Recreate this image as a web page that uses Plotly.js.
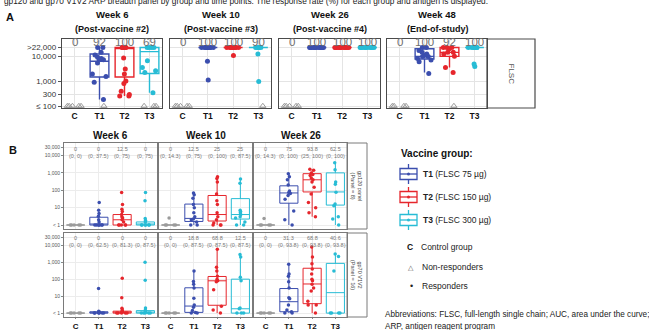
<!DOCTYPE html>
<html><head><meta charset="utf-8">
<script src="https://cdn.plot.ly/plotly-3.0.1.min.js"></script>
<style>html,body{margin:0;padding:0;background:#fff}#chart{width:649px;height:330px}</style>
</head><body><div id="chart"></div>
<script>
// ---------- DATA ----------
const groups = ['C','T1','T2','T3'];
const caption = 'gp120 and gp70 V1V2 ARP breadth panel by group and time points. The response rate (%) for each group and antigen is displayed.';

// Panel A
const aTitles = ['Week 6','Week 10','Week 26','Week 48'];
const aSubtitles = ['(Post-vaccine #2)','(Post-vaccine #3)','(Post-vaccine #4)','(End-of-study)'];
const aRates = [[0,92,100,69],[0,100,100,90],[0,100,100,100],[0,100,92,100]];
const aTickVals = [100,300,1000,10000,22000];
const aTickText = ['≤ 100','300','1,000','10,000','>22,000'];
const aStrip = 'FLSC';

// box stats: [q1, median, q3, lower whisker, upper whisker]
const aW6_box  = {T1:[1450,6200,12000,180,22000], T2:[1450,20000,22000,250,22000], T3:[2000,15000,22000,340,22000]};
const aW10_box = {T1:[22000,22000,22000,22000,22000], T2:[22000,22000,22000,22000,22000], T3:[22000,22000,22000,22000,22000]};
const aW26_box = {T1:[22000,22000,22000,22000,22000], T2:[22000,22000,22000,22000,22000], T3:[22000,22000,22000,22000,22000]};
const aW48_box = {T1:[7600,9700,19500,2200,22000], T2:[9700,14000,22000,3500,22000], T3:[22000,22000,22000,22000,22000]};

// responders (filled dots)
const aW6_resp  = {T1:[22000,22000,14000,11000,9000,8000,7000,7000,5300,1900,1500,900,180],
                   T2:[22000,22000,22000,22000,22000,8300,3000,1900,1000,800,390,290,250,250],
                   T3:[22000,22000,22000,22000,6500,3500,2600,2200,340]};
const aW10_resp = {T1:[22000,22000,22000,22000,22000,22000,22000,22000,22000,22000,22000,6200,1100],
                   T2:[22000,22000,22000,22000,22000,22000,22000,22000,22000,22000,22000,22000,10500],
                   T3:[22000,22000,22000,22000,22000,22000,22000,12000,950]};
const aW26_resp = {T1:[22000,22000,22000,22000,22000,22000,22000,22000,22000,22000,22000,22000,22000],
                   T2:[22000,22000,22000,22000,22000,22000,22000,22000,22000,22000,22000,22000,22000],
                   T3:[22000,22000,22000,22000,22000,22000,22000,22000,22000,22000]};
const aW48_resp = {T1:[22000,22000,16500,14000,12000,10500,9500,9500,8000,6900,5900,2000],
                   T2:[22000,22000,22000,19500,14000,14000,12000,9700,3500,2200],
                   T3:[22000,22000,22000,22000,22000,22000,22000,22000,22000,4800,3800]};
// non-responders (open triangles, at <=100)
const aW6_nr  = {C:[100,100,100,100,100], T1:[100], T2:[], T3:[100,100,100]};
const aW10_nr = {C:[100,100,100,100,100], T1:[], T2:[], T3:[100]};
const aW26_nr = {C:[100,100,100,100,100], T1:[], T2:[], T3:[]};
const aW48_nr = {C:[100,100,100,100], T1:[], T2:[100], T3:[]};

// Panel B
const bTitles = ['Week 6','Week 10','Week 26'];
const bStrips = ['gp120 panel<br>(Panel = 8)','gp70 V1V2<br>(Panel = 16)'];
const bTickVals = [1,10,100,1000,10000,30000];
const bTickText = ['< 1','10','100','1,000','10,000','30,000'];
const bRates = [[['0','0','12.5','0'],['0','12.5','25','25'],['0','75','93.8','62.5']],
                [['0','0','0','0'],['0','18.8','68.8','12.5'],['0','31.3','68.8','40.6']]];
const bCIs = [[['(0, 0)','(0, 37.5)','(0, 75)','(0, 75)'],['(0, 14.3)','(0, 75)','(0, 100)','(0, 87.5)'],['(0, 14.3)','(0, 100)','(25, 100)','(0, 100)']],
              [['(0, 0)','(0, 62.5)','(0, 81.3)','(0, 87.5)'],['(0, 0)','(0, 87.5)','(0, 87.5)','(0, 87.5)'],['(0, 0)','(0, 93.8)','(0, 93.8)','(0, 93.8)']]];

const bGp120W6_box  = {C:[1,1,1,1,1], T1:[1,1,2.8,1,5], T2:[1,2,4,1,8], T3:[1,1,1.5,1,2]};
const bGp120W10_box = {C:[1,1,1,1,1], T1:[1.6,2.4,16,1,70], T2:[1.7,4,50,1,600], T3:[2.2,4,33,1,450]};
const bGp120W26_box = {C:[1,1,1,1,1], T1:[18,70,180,1,900], T2:[80,400,900,3,1600], T3:[14,80,1000,1,3800]};
const bGp70W6_box   = {C:[1,1,1,1,1], T1:[1,1,1.2,1,1.3], T2:[1,1.1,1.3,1,1.9], T3:[1,1,1.4,1,2]};
const bGp70W10_box  = {C:[1,1,1,1,1], T1:[1.1,2.6,31,1,300], T2:[2.9,80,144,1,5700], T3:[1,1.8,100,1,2800]};
const bGp70W26_box  = {C:[1,1,1,1,1], T1:[1.2,4.7,28,1,750], T2:[3.6,52,440,1,7800], T3:[1,16,850,1,3000]};

const bGp120W6_pts  = {C:[1,1,1,1,1], T1:[20,7,4.6,3.2,2,1.5,1,1,1,1,1,1,1],
                       T2:[75,15,8,6,4,3,2.5,2,1.5,1,1,1,1,1], T3:[75,25,2.4,1.8,1.5,1,1,1,1,1,1]};
const bGp120W10_pts = {C:[2.5,1,1,1,1], T1:[70,55,35,15,10,5,3,2.2,2,1.5,1,1],
                       T2:[600,480,300,60,25,15,5,3,2,1.3,1,1,1], T3:[450,250,7,6,5,4,3,2.5,1.5,1,1]};
const bGp120W26_pts = {C:[2.4,1,1,1,1], T1:[900,600,400,200,90,75,65,50,30,6.5,2,1],
                       T2:[1600,1400,1000,800,700,500,400,300,150,60,20,10,5,3], T3:[3800,1500,300,220,76,16,13,3,2.2,1]};
const bGp70W6_pts   = {C:[1,1,1,1,1], T1:[28,1.3,1.2,1.1,1,1,1,1,1,1],
                       T2:[115,8,1.9,1.5,1.3,1.2,1,1,1,1,1], T3:[1000,85,2,1.5,1.2,1,1,1,1,1]};
const bGp70W10_pts  = {C:[1,1,1,1,1], T1:[300,74,50,30,7.4,3,2.2,1.4,1.1,1,1],
                       T2:[5700,500,300,150,100,80,70,24,2.5,1.5,1], T3:[2800,2000,130,80,2,1.8,1,1,1]};
const bGp70W26_pts  = {C:[1,1,1,1,1], T1:[750,200,150,70,30,8,7,3,1.5,1.2,1,1],
                       T2:[7800,2000,800,400,200,100,80,50,30,20,5,3,3,1], T3:[3000,2200,300,1,1,1,1]};

// Legend
const legGroups = ['T1','T2','T3'];
const legDoses = ['(FLSC 75 µg)','(FLSC 150 µg)','(FLSC 300 µg)'];
const abbrev = ['Abbreviations: FLSC, full-length single chain; AUC, area under the curve;','ARP, antigen reagent program'];

// ---------- STYLE / LAYOUT ----------
const W = 649, H = 330;
const FONT = 'Liberation Sans, Arial, sans-serif';
const colors = {C:'#9b9b9b', T1:'#3b4eae', T2:'#e6262c', T3:'#27bcd5'};
const px = v => v / W, py = v => 1 - v / H;
const aX = [[62,162],[170,271],[279,380],[387,487]], aY = [39,108];
const bX = [[64,157],[159,252],[254,347]], bY = [[143,229],[233,317]];

const aBox = [aW6_box, aW10_box, aW26_box, aW48_box];
const aResp = [aW6_resp, aW10_resp, aW26_resp, aW48_resp];
const aNR = [aW6_nr, aW10_nr, aW26_nr, aW48_nr];
const bBox = [[bGp120W6_box, bGp120W10_box, bGp120W26_box],[bGp70W6_box, bGp70W10_box, bGp70W26_box]];
const bPts = [[bGp120W6_pts, bGp120W10_pts, bGp120W26_pts],[bGp70W6_pts, bGp70W10_pts, bGp70W26_pts]];

const traces = [];
const layout = {
  width: W, height: H, margin: {l:0, r:0, t:0, b:0}, paper_bgcolor:'#fff', plot_bgcolor:'#fff',
  showlegend:false, boxmode:'overlay', font:{family:FONT, color:'#222'},
  annotations: [], shapes: []
};

function boxTrace(xa, ya, g, s, lw, bw){
  return {type:'box', xaxis:xa, yaxis:ya, x:[g], q1:[s[0]], median:[s[1]], q3:[s[2]],
    lowerfence:[s[3]], upperfence:[s[4]], width:bw, whiskerwidth:0, boxpoints:false,
    line:{color:colors[g], width:lw}, fillcolor:'rgba(255,255,255,0)', hoverinfo:'skip'};
}
function ptsTrace(xa, ya, g, vals, color, symbol, size, jit, bw){
  return {type:'box', xaxis:xa, yaxis:ya, x:vals.map(() => g), y:vals, boxpoints:'all',
    jitter:jit, pointpos:0, width:bw, line:{width:0, color:'rgba(0,0,0,0)'}, fillcolor:'rgba(0,0,0,0)',
    marker:{color:color, symbol:symbol, size:size, line:{width: symbol.indexOf('open')>=0 ? 1 : 0, color:color}},
    hoverinfo:'skip'};
}
function ann(x, y, text, size, opts){
  return Object.assign({xref:'paper', yref:'paper', x:x, y:y, text:text, showarrow:false,
    font:{size:size, color:'#222', family:FONT}, xanchor:'center', yanchor:'middle'}, opts || {});
}

// ---------- PANEL A ----------
for (let i = 0; i < 4; i++){
  const k = i + 1, sfx = k === 1 ? '' : String(k);
  const xa = 'x' + sfx, ya = 'y' + sfx;
  layout['xaxis' + sfx] = {domain:[px(aX[i][0]), px(aX[i][1])], anchor:ya, type:'category',
    categoryorder:'array', categoryarray:groups, range:[-0.5,3.5], tickvals:groups,
    ticktext:groups.map(g => '<b>' + g + '</b>'), tickfont:{size:8.5, color:'#111'},
    showgrid:true, gridcolor:'#e4e4e4', showline:true, mirror:true, linecolor:'#4a4a4a', linewidth:1.2,
    ticks:'', zeroline:false, fixedrange:true};
  layout['yaxis' + sfx] = {domain:[py(aY[1]), py(aY[0])], anchor:xa, type:'log', range:[1.92,4.68],
    tickvals:aTickVals, ticktext:aTickText, showticklabels:i === 0, ticks:i === 0 ? 'outside' : '',
    ticklen:3, tickcolor:'#555', tickfont:{size:8, color:'#333'}, showgrid:true, gridcolor:'#e4e4e4',
    showline:true, mirror:true, linecolor:'#4a4a4a', linewidth:1.2, zeroline:false, fixedrange:true};
  ['T1','T2','T3'].forEach(g => {
    traces.push(boxTrace(xa, ya, g, aBox[i][g], 1.4, 0.75));
  });
  groups.forEach(g => {
    const nr = aNR[i][g] || [];
    if (nr.length) traces.push(ptsTrace(xa, ya, g, nr, '#9a9a9a', 'triangle-up-open', 5.5, 0.9, 0.75));
    const rs = aResp[i][g] || [];
    if (rs.length) traces.push(ptsTrace(xa, ya, g, rs, colors[g], 'circle', 5, 0.9, 0.75));
  });
  groups.forEach((g, j) => {
    layout.annotations.push({xref:xa, yref:'paper', x:j, y:py(42), text:String(aRates[i][j]),
      showarrow:false, font:{size:11.5, color:'#6e6e6e', family:FONT}, yanchor:'middle'});
  });
  const cx = px((aX[i][0] + aX[i][1]) / 2);
  layout.annotations.push(ann(cx, py(15), '<b>' + aTitles[i] + '</b>', 9.5, {font:{size:9.5,color:'#111',family:FONT}}));
  layout.annotations.push(ann(cx, py(29), '<b>' + aSubtitles[i] + '</b>', 9, {font:{size:9,color:'#111',family:FONT}}));
}
// A strip
layout.shapes.push({type:'rect', xref:'paper', yref:'paper', x0:px(487), x1:px(535), y0:py(aY[1]), y1:py(aY[0]),
  line:{color:'#4a4a4a', width:1.2}, fillcolor:'rgba(0,0,0,0)'});
layout.annotations.push(ann(px(511), py((aY[0] + aY[1]) / 2), aStrip, 8, {textangle:90, font:{size:8, color:'#555', family:FONT}}));

// ---------- PANEL B ----------
for (let r = 0; r < 2; r++){
  for (let c = 0; c < 3; c++){
    const k = 5 + r * 3 + c, sfx = String(k);
    const xa = 'x' + sfx, ya = 'y' + sfx;
    layout['xaxis' + sfx] = {domain:[px(bX[c][0]), px(bX[c][1])], anchor:ya, type:'category',
      categoryorder:'array', categoryarray:groups, range:[-0.5,3.5], tickvals:groups,
      ticktext:groups.map(g => '<b>' + g + '</b>'), tickfont:{size:8, color:'#111'},
      showticklabels:r === 1, ticks:r === 1 ? 'outside' : '', ticklen:1, tickcolor:'#888',
      showgrid:true, gridcolor:'#ececec', showline:true, mirror:true, linecolor:'#7a7a7a', linewidth:1,
      zeroline:false, fixedrange:true};
    layout['yaxis' + sfx] = {domain:[py(bY[r][1]), py(bY[r][0])], anchor:xa, type:'log', range:[-0.23,4.72],
      tickvals:bTickVals, ticktext:bTickText, showticklabels:c === 0, ticks:c === 0 ? 'outside' : '',
      ticklen:2, tickcolor:'#888', tickfont:{size:5, color:'#555'}, showgrid:true, gridcolor:'#ececec',
      showline:true, mirror:true, linecolor:'#7a7a7a', linewidth:1, zeroline:false, fixedrange:true};
    groups.forEach(g => {
      traces.push(boxTrace(xa, ya, g, bBox[r][c][g], 1, 0.78));
    });
    groups.forEach(g => {
      traces.push(ptsTrace(xa, ya, g, bPts[r][c][g], colors[g], 'circle', 3.5, 0.7, 0.78));
    });
    const rowY = r === 0 ? [149,156] : [238,245];
    groups.forEach((g, j) => {
      layout.annotations.push({xref:xa, yref:'paper', x:j, y:py(rowY[0]), text:bRates[r][c][j],
        showarrow:false, font:{size:5.5, color:'#777', family:FONT}, yanchor:'middle'});
      layout.annotations.push({xref:xa, yref:'paper', x:j, y:py(rowY[1]), text:bCIs[r][c][j],
        showarrow:false, font:{size:5.5, color:'#777', family:FONT}, yanchor:'middle'});
    });
    if (r === 0){
      layout.annotations.push(ann(px((bX[c][0] + bX[c][1]) / 2), py(135), '<b>' + bTitles[c] + '</b>', 10,
        {font:{size:10, color:'#111', family:FONT}}));
    }
  }
  layout.shapes.push({type:'rect', xref:'paper', yref:'paper', x0:px(347), x1:px(367), y0:py(bY[r][1]), y1:py(bY[r][0]),
    line:{color:'#7a7a7a', width:1}, fillcolor:'rgba(0,0,0,0)'});
  layout.annotations.push(ann(px(357), py((bY[r][0] + bY[r][1]) / 2), bStrips[r], 5.5,
    {textangle:90, font:{size:5.5, color:'#444', family:FONT}}));
}

// ---------- TEXT / LEGEND ----------
layout.annotations.push(ann(px(2), py(1), caption, 8.3, {xanchor:'left', font:{size:8.3, color:'#222', family:FONT}}));
layout.annotations.push(ann(px(10), py(17), '<b>A</b>', 11, {font:{size:11, color:'#111', family:FONT}}));
layout.annotations.push(ann(px(13), py(150), '<b>B</b>', 11, {font:{size:11, color:'#111', family:FONT}}));
layout.annotations.push(ann(px(399), py(153), '<b>Vaccine group:</b>', 10, {xanchor:'left', font:{size:10, color:'#111', family:FONT}}));
const legY = [174,197,220];
legGroups.forEach((g, k) => {
  const cy = legY[k], col = colors[g];
  const L = (x0,y0,x1,y1) => layout.shapes.push({type:'line', xref:'paper', yref:'paper',
    x0:px(x0), y0:py(y0), x1:px(x1), y1:py(y1), line:{color:col, width:1.3}});
  layout.shapes.push({type:'rect', xref:'paper', yref:'paper', x0:px(400), x1:px(417), y0:py(cy+5.5), y1:py(cy-5.5),
    line:{color:col, width:1.3}, fillcolor:'rgba(0,0,0,0)'});
  L(408.5, cy-10, 408.5, cy-5.5); L(408.5, cy+5.5, 408.5, cy+10); L(400, cy, 417, cy);
  layout.shapes.push({type:'circle', xref:'paper', yref:'paper', x0:px(407), x1:px(410), y0:py(cy+1.5), y1:py(cy-1.5),
    line:{color:col, width:0}, fillcolor:col});
  layout.annotations.push(ann(px(421), py(cy), '<b>' + g + '</b> ' + legDoses[k], 8.5,
    {xanchor:'left', font:{size:8.5, color:'#222', family:FONT}}));
});
layout.annotations.push(ann(px(410), py(247), '<b>C</b>', 8.5, {font:{size:8.5, color:'#111', family:FONT}}));
layout.annotations.push(ann(px(419), py(247), 'Control group', 8.5, {xanchor:'left', font:{size:8.5, color:'#222', family:FONT}}));
layout.annotations.push(ann(px(411), py(267), '△', 6.5, {font:{size:6.5, color:'#555', family:FONT}}));
layout.annotations.push(ann(px(420), py(267), 'Non-responders', 8.5, {xanchor:'left', font:{size:8.5, color:'#222', family:FONT}}));
layout.annotations.push(ann(px(411), py(286), '•', 9, {font:{size:9, color:'#222', family:FONT}}));
layout.annotations.push(ann(px(420), py(286), 'Responders', 8.5, {xanchor:'left', font:{size:8.5, color:'#222', family:FONT}}));
abbrev.forEach((t, k) => {
  layout.annotations.push(ann(px(383), py(314 + k * 12), t, 8.2, {xanchor:'left', font:{size:8.2, color:'#222', family:FONT}}));
});

Plotly.newPlot('chart', traces, layout, {staticPlot:true, displayModeBar:false});
</script>
</body></html>
